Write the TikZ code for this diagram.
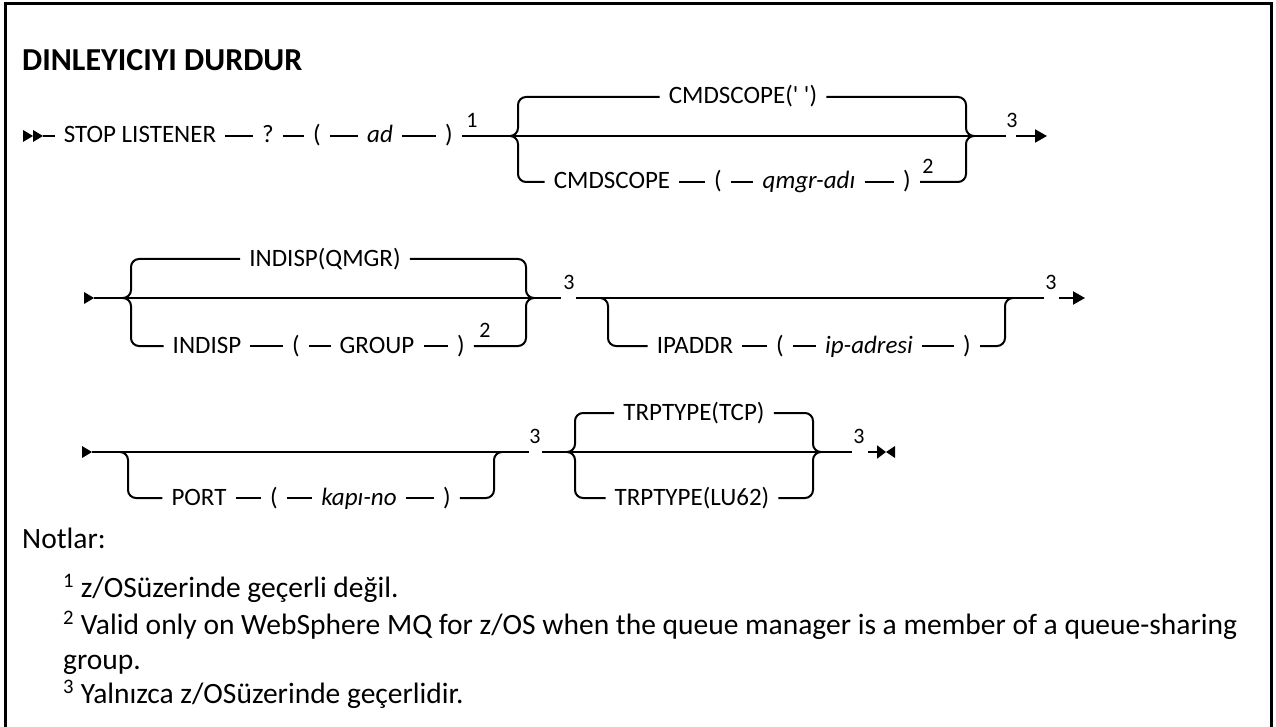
\documentclass[tikz,border=0pt]{standalone}
\usepackage{fontspec}
\setmainfont{Carlito}
\usetikzlibrary{arrows.meta}

\begin{document}
\begin{tikzpicture}[x=1pt, y=-1pt,
    rail/.style={line width=2pt},
    railc/.style={line width=2pt, rounded corners=8pt},
    kw/.style={inner xsep=9pt, inner ysep=0pt, text height=18pt, text depth=4pt,
        font=\fontsize{25}{28}\selectfont},
    var/.style={kw, font=\fontsize{25}{28}\selectfont\itshape},
    sup/.style={inner sep=0pt, font=\fontsize{22}{24}\selectfont},
    note/.style={anchor=base west, inner sep=0pt, font=\fontsize{29.5}{34}\selectfont},
    endtip/.style={-{Triangle[length=12pt,width=13pt]}}]
    \useasboundingbox (0,0) rectangle (1276,727);
    % frame
    \draw[line width=3pt] (5,727) -- (5,4) -- (1271,4) -- (1271,727);
    \node[anchor=west, inner sep=0pt, font=\fontsize{32}{36}\selectfont\bfseries]
        (title) at (22,60) {DINLEYICIYI DURDUR};

    % Row 1: STOP LISTENER
    \fill (23,130) -- (33,136) -- (23,142) -- cycle;
    \fill (33,130) -- (43,136) -- (33,142) -- cycle;
    \coordinate (s1) at (43,136);
    \node[kw] (stop) at (140,136) {STOP LISTENER};
    \node[kw] (qm) at (268,136) {?};
    \node[kw] (lpa) at (317,136) {(};
    \node[var] (ad) at (380,136) {ad};
    \node[kw] (rpa) at (449,136) {)};
    \node[sup] (n1) at (472,120) {1};
    \coordinate (b1l) at (510,136);
    \coordinate (b1r) at (974,136);
    \coordinate (e1) at (1006,136);
    \node[sup] (n1b) at (1012,120) {3};
    \coordinate (a1) at (1016,136);
    \coordinate (a1e) at (1047,136);
    \node[kw] (cmdt) at (743,97) {CMDSCOPE(\textquotesingle\ \textquotesingle)};
    \node[kw] (cmdb) at (612,182) {CMDSCOPE};
    \node[kw] (lpb) at (718,182) {(};
    \node[var] (qmgr) at (809,182) {qmgr-adı};
    \node[kw] (rpb) at (907,182) {)};
    \node[sup] (n2) at (928,166) {2};
    \draw[rail] (s1) -- (stop) -- (qm) -- (lpa) -- (ad) -- (rpa) -- (b1l) -- (b1r) -- (e1);
    \draw[rail, endtip] (a1) -- (a1e);
    \draw[railc] (b1l) -- ++(8,0) |- (cmdt);
    \draw[railc] (b1r) -- ++(-8,0) |- (cmdt);
    \draw[railc] (b1l) -- ++(8,0) |- (cmdb);
    \draw[rail] (cmdb) -- (lpb) -- (qmgr) -- (rpb);
    \draw[railc] (b1r) -- ++(-8,0) |- (rpb);

    % Row 2: INDISP, IPADDR
    \fill (84,292) -- (94,298) -- (84,304) -- cycle;
    \coordinate (s2) at (94,298);
    \coordinate (b2l) at (123,298);
    \coordinate (b2r) at (534,298);
    \node[kw] (indq) at (325,259) {INDISP(QMGR)};
    \node[kw] (ind) at (207,346) {INDISP};
    \node[kw] (lpc) at (296,346) {(};
    \node[kw] (grp) at (377,346) {GROUP};
    \node[kw] (rpc) at (461,346) {)};
    \node[sup] (n2b) at (485,330) {2};
    \coordinate (e2a) at (561,298);
    \node[sup] (n3a) at (569,282) {3};
    \coordinate (e2b) at (576,298);
    \coordinate (o2l) at (600,298);
    \coordinate (o2r) at (1013,298);
    \coordinate (e2c) at (1044,298);
    \node[sup] (n3b) at (1051,282) {3};
    \coordinate (a2) at (1059,298);
    \coordinate (a2e) at (1085,298);
    \node[kw] (ipa) at (695,346) {IPADDR};
    \node[kw] (lpd) at (780,346) {(};
    \node[var] (ipad) at (869,346) {ip-adresi};
    \node[kw] (rpd) at (967,346) {)};
    \draw[rail] (s2) -- (b2l) -- (b2r) -- (e2a);
    \draw[railc] (b2l) -- ++(8,0) |- (indq);
    \draw[railc] (b2r) -- ++(-8,0) |- (indq);
    \draw[railc] (b2l) -- ++(8,0) |- (ind);
    \draw[rail] (ind) -- (lpc) -- (grp) -- (rpc);
    \draw[railc] (b2r) -- ++(-8,0) |- (rpc);
    \draw[rail] (e2b) -- (o2l) -- (o2r) -- (e2c);
    \draw[railc] (o2l) -- ++(8,0) |- (ipa);
    \draw[rail] (ipa) -- (lpd) -- (ipad) -- (rpd);
    \draw[railc] (o2r) -- ++(-8,0) |- (rpd);
    \draw[rail, endtip] (a2) -- (a2e);

    % Row 3: PORT, TRPTYPE
    \fill (82,446) -- (92,452) -- (82,458) -- cycle;
    \coordinate (s3) at (92,452);
    \coordinate (o3l) at (120,452);
    \coordinate (o3r) at (502,452);
    \node[kw] (port) at (199,498) {PORT};
    \node[kw] (lpe) at (274,498) {(};
    \node[var] (kapi) at (359,498) {kapı-no};
    \node[kw] (rpe) at (447,498) {)};
    \coordinate (e3a) at (529,452);
    \node[sup] (n3c) at (535,436) {3};
    \coordinate (e3b) at (542,452);
    \coordinate (b3l) at (567,452);
    \coordinate (b3r) at (821,452);
    \node[kw] (tcp) at (694,413) {TRPTYPE(TCP)};
    \node[kw] (lu) at (692,498) {TRPTYPE(LU62)};
    \coordinate (e3c) at (852,452);
    \node[sup] (n3d) at (859,436) {3};
    \coordinate (a3) at (868,452);
    \coordinate (a3e) at (886,452);
    \draw[rail] (s3) -- (o3l) -- (o3r) -- (e3a);
    \draw[railc] (o3l) -- ++(8,0) |- (port);
    \draw[rail] (port) -- (lpe) -- (kapi) -- (rpe);
    \draw[railc] (o3r) -- ++(-8,0) |- (rpe);
    \draw[rail] (e3b) -- (b3l) -- (b3r) -- (e3c);
    \draw[railc] (b3l) -- ++(8,0) |- (tcp);
    \draw[railc] (b3r) -- ++(-8,0) |- (tcp);
    \draw[railc] (b3l) -- ++(8,0) |- (lu);
    \draw[railc] (b3r) -- ++(-8,0) |- (lu);
    \draw[rail, -{Triangle[length=9pt,width=13pt]}] (a3) -- (a3e);
    \fill (895,446) -- (886,452) -- (895,458) -- cycle;

    % Notes
    \node[note] (notlar) at (22,548) {Notlar:};
    \node[note] (note1) at (63,597) {\textsuperscript{1} z/OSüzerinde geçerli değil.};
    \node[note] (note2) at (63,634) {\textsuperscript{2} Valid only on WebSphere MQ for z/OS when the queue manager is a member of a queue-sharing};
    \node[note] (note2b) at (63,669) {group.};
    \node[note] (note3) at (63,703) {\textsuperscript{3} Yalnızca z/OSüzerinde geçerlidir.};
\end{tikzpicture}
\end{document}
